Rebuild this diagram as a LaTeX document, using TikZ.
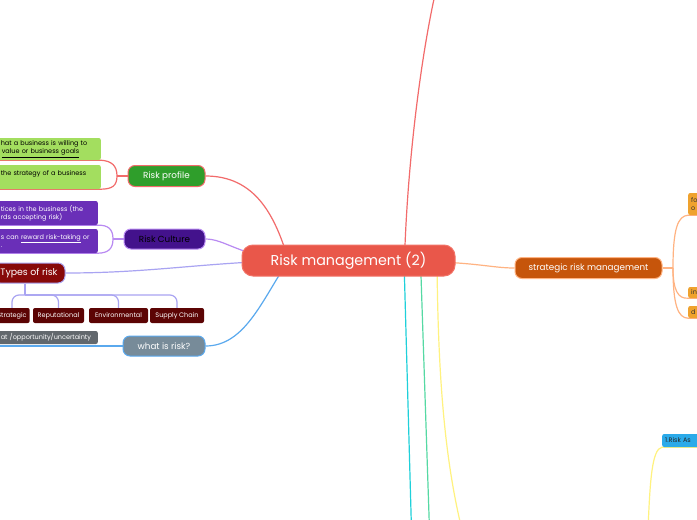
\documentclass[tikz,border=0pt]{standalone}
\usepackage{fontspec}
\setmainfont{Poppins}
\usetikzlibrary{positioning,backgrounds}

\definecolor{rootfill}{HTML}{E9574A}
\definecolor{rootedge}{HTML}{F27468}
\definecolor{redline}{HTML}{F26B6B}
\definecolor{rpfill}{HTML}{2F9E2B}
\definecolor{rcfill}{HTML}{43128C}
\definecolor{purpleline}{HTML}{B98AF2}
\definecolor{trfill}{HTML}{870909}
\definecolor{lavender}{HTML}{A9A4F2}
\definecolor{typfill}{HTML}{5C0404}
\definecolor{wrfill}{HTML}{778B99}
\definecolor{blueline}{HTML}{5AA9EE}
\definecolor{grayleaf}{HTML}{62686D}
\definecolor{gleaf}{HTML}{A3DE5F}
\definecolor{pleaf}{HTML}{6A2FB8}
\definecolor{srmfill}{HTML}{C6550B}
\definecolor{orangeline}{HTML}{FFB382}
\definecolor{oleaf}{HTML}{EFA22E}
\definecolor{blueleaf}{HTML}{2BAAE9}
\definecolor{cyanline}{HTML}{1FD0DA}
\definecolor{greenline}{HTML}{55D9A3}
\definecolor{yellowline}{HTML}{FFF27F}

\begin{document}
\begin{tikzpicture}[
  x=1pt, y=-1pt,
  topic/.style={draw, line width=1pt, rounded corners=7pt, align=center, text=white, font=\fontsize{8.8}{10}\selectfont, inner sep=2pt, minimum height=21pt},
  leaf/.style={rounded corners=2pt, align=left, text=white, font=\fontsize{6.5}{8}\selectfont, inner xsep=3pt, inner ysep=2pt},
  link/.style={line width=1.2pt}
]
\useasboundingbox (0,0) rectangle (697,520);

\node[topic, fill=rootfill, draw=rootedge, minimum width=213pt, minimum height=31pt, rounded corners=11pt, font=\fontsize{14.3}{16}\selectfont] (root) at (348.5,260.5) {Risk management (2)};

\node[topic, fill=rpfill, draw=redline, minimum width=77pt] (rp) at (166.5,176) {Risk profile};
\node[topic, fill=rcfill, draw=purpleline, text=black, minimum width=81pt, minimum height=20pt] (rc) at (164.5,239) {Risk Culture};
\node[topic, fill=trfill, draw=lavender, minimum width=72pt, minimum height=20pt, font=\fontsize{9.4}{10}\selectfont] (tr) at (29,273) {Types of risk};
\node[topic, fill=wrfill, draw=blueline, minimum width=82pt, minimum height=20pt] (wr) at (164,346) {what is risk?};
\node[topic, fill=srmfill, draw=orangeline, minimum width=147pt] (srm) at (588.5,268) {strategic risk management};

% risk profile
\node[leaf, fill=gleaf, text=black, text width=97pt, minimum height=22pt, anchor=east] (gl1) at (101,149) {hat a business is willing to\\\hspace*{1pt}\underline{value or business goals}};
\node[leaf, fill=gleaf, text=black, text width=97pt, minimum height=24pt, anchor=east] (gl2) at (101,177) {the strategy of a business\\\mbox{}};

% risk culture
\node[leaf, fill=pleaf, text width=94pt, minimum height=24pt, anchor=east] (pl1) at (98,213) {tices in the business (the\\rds accepting risk)};
\node[leaf, fill=pleaf, text width=94pt, minimum height=24pt, anchor=east] (pl2) at (98,241) {s can \underline{reward risk-taking} or\\.};

% types of risk
\node[leaf, fill=typfill, align=center, minimum width=34pt, minimum height=15pt] (ty1) at (12,315.5) {Strategic};
\node[leaf, fill=typfill, align=center, minimum width=51pt, minimum height=15pt] (ty2) at (58.5,315.5) {Reputational};
\node[leaf, fill=typfill, align=center, minimum width=59pt, minimum height=15pt] (ty3) at (118.5,315.5) {Environmental};
\node[leaf, fill=typfill, align=center, minimum width=54pt, minimum height=15pt] (ty4) at (177,315.5) {Supply Chain};

% what is risk
\node[leaf, fill=grayleaf, text width=94pt, minimum height=13pt, anchor=east] (gy) at (98,337.5) {at /opportunity/uncertainty};

% strategic risk management
\node[leaf, fill=oleaf, text=black!80, text width=40pt, minimum height=22pt, anchor=west] (or1) at (688,204) {fo\\o};
\node[leaf, fill=oleaf, text=black!80, text width=40pt, minimum height=11pt, anchor=west] (or2) at (688,292.5) {in};
\node[leaf, fill=oleaf, text=black!80, text width=40pt, minimum height=12pt, anchor=west] (or3) at (688,312) {d};
\node[leaf, fill=blueleaf, text=black!85, text width=60pt, minimum height=13pt, anchor=west] (bl) at (662,440.5) {1.Risk As};

\coordinate (topend) at (436,-10);
\coordinate (cyanend) at (411.5,530);
\coordinate (greenend) at (429.5,530);
\coordinate (yellowend) at (462,530);
\coordinate (blend) at (648,530);
\coordinate (rpj) at (117,176);
\coordinate (rcj) at (113,239);
\coordinate (trj) at (25,295);
\coordinate (srmj) at (673,268);

\begin{scope}[on background layer]
\fill[white] (0,0) rectangle (697,520);
\draw[link, redline] (rp.east) .. controls (255,176) and (275,215) .. ([xshift=-60pt]root.center);
\draw[link, purpleline] (rc.east) .. controls (225,239) and (240,256) .. ([xshift=-60pt]root.center);
\draw[link, lavender] (tr.east) .. controls (150,273) and (200,263) .. ([xshift=-60pt]root.center);
\draw[link, blueline] (wr.east) .. controls (245,346) and (262,300) .. ([xshift=-60pt]root.center);
\draw[link, orangeline] ([xshift=50pt]root.center) .. controls (480,262) and (490,268) .. (srm.west);
\draw[link, redline] ([xshift=56pt]root.center) .. controls (407,170) and (420,60) .. (topend);
\draw[link, cyanline] ([xshift=55.5pt]root.center) -- (cyanend);
\draw[link, greenline] ([xshift=72pt]root.center) -- (greenend);
\draw[link, yellowline] ([xshift=88.5pt]root.center) .. controls (438,380) and (445,460) .. (yellowend);

\draw[link, redline] (rp.west) -- (rpj);
\draw[link, redline] (rpj) .. controls (117,166) and (112,161) .. (gl1.south east) -- (gl1.south west);
\draw[link, redline] (rpj) .. controls (117,186) and (112,189) .. (gl2.south east) -- (gl2.south west);

\draw[link, purpleline] (rc.west) -- (rcj);
\draw[link, purpleline] (rcj) .. controls (113,229) and (108,225) .. (pl1.south east) -- (pl1.south west);
\draw[link, purpleline] (rcj) .. controls (113,249) and (108,253) .. (pl2.south east) -- (pl2.south west);

\draw[link, lavender] (trj |- tr.south) -- (trj);
\foreach \t in {ty1,ty2,ty3,ty4}
  \draw[link, lavender, rounded corners=7pt] (trj) -| (\t.north);

\draw[link, blueline] (wr.west) -- (gy.south west |- wr.west);

\draw[link, orangeline] (srm.east) -- (srmj);
\draw[link, orangeline] (srmj) .. controls (673,228) and (678,216) .. (or1.south west) -- (or1.south east);
\draw[link, orangeline] (srmj) .. controls (673,290) and (678,299) .. (or2.south west) -- (or2.south east);
\draw[link, orangeline] (srmj) .. controls (673,305) and (678,318) .. (or3.south west) -- (or3.south east);

\draw[link, yellowline] (bl.south east) -- (bl.south west) .. controls (652,449) and (650,480) .. (blend);
\end{scope}
\end{tikzpicture}
\end{document}
